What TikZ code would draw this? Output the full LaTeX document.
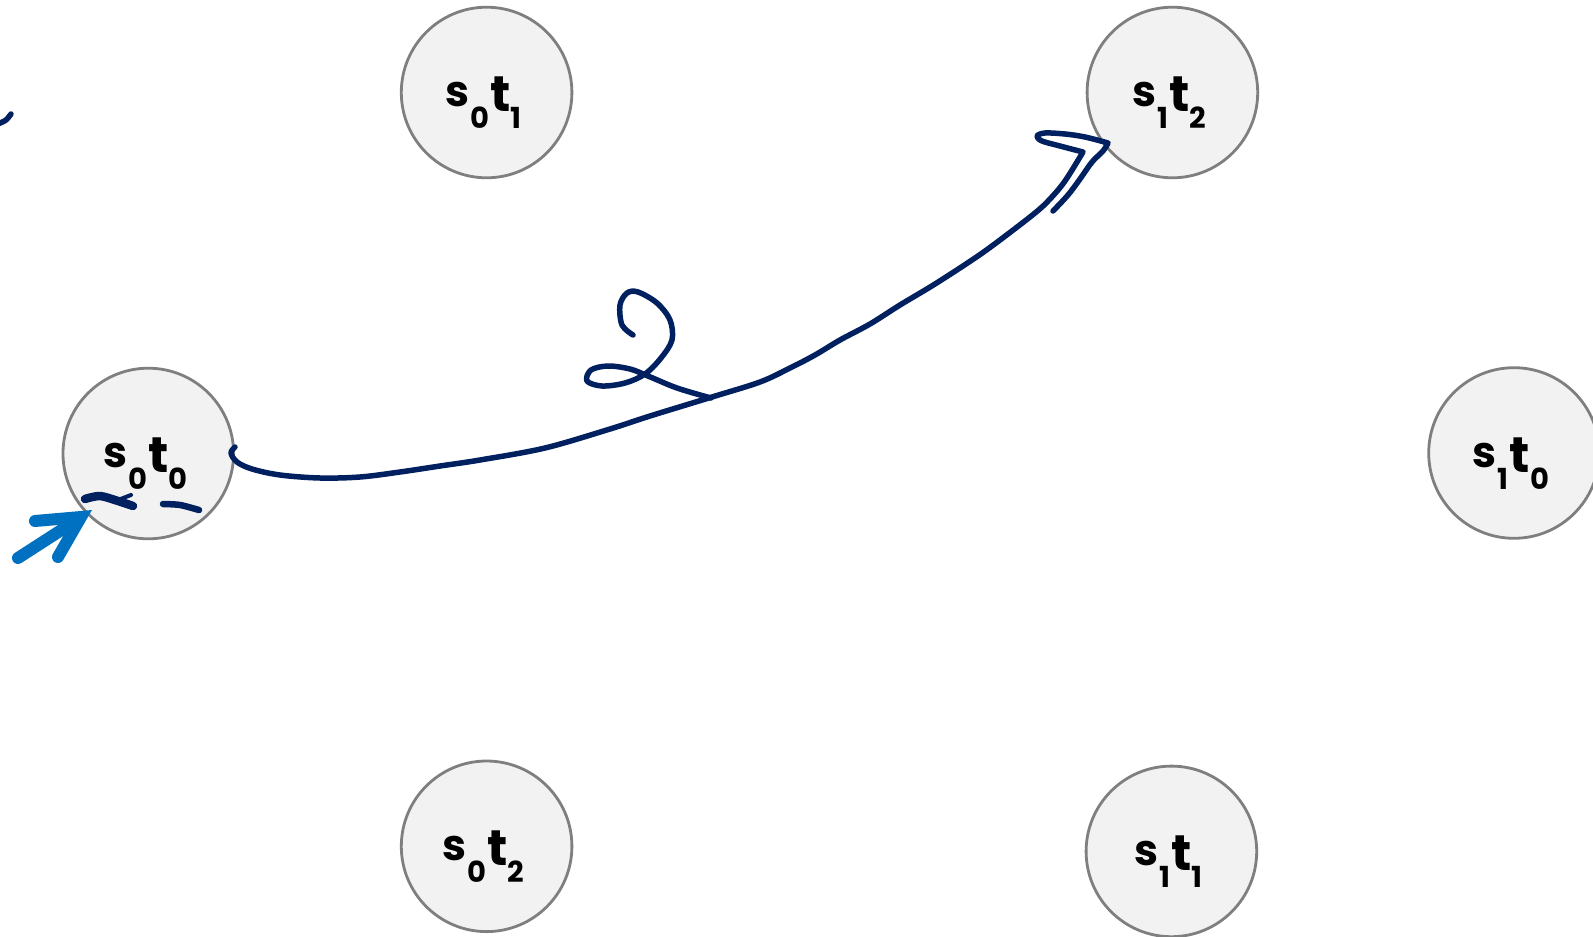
\documentclass[tikz,border=0pt]{standalone}
\usepackage{fontspec}
\setmainfont{Poppins}
\definecolor{ink}{HTML}{002060}
\definecolor{penblue}{HTML}{0070C0}
\definecolor{nodefill}{HTML}{F2F2F2}
\definecolor{nodeborder}{HTML}{7F7F7F}
\newcommand{\stlabel}[2]{\bfseries\fontsize{43}{43}\selectfont s\kern1pt\raisebox{-22pt}{\fontsize{29}{29}\selectfont #1}\kern1pt\raisebox{-5pt}{\fontsize{50}{50}\selectfont t}\raisebox{-22pt}{\fontsize{29}{29}\selectfont #2}}
\tikzset{
  state/.style={circle, draw=nodeborder, fill=nodefill, line width=2.8pt, minimum size=170.6pt, inner sep=0pt},
  statelabel/.style={anchor=base, inner sep=0pt, text=black},
  inkstroke/.style={draw=ink, line width=5.5pt, line cap=round, line join=round},
}
\begin{document}
\begin{tikzpicture}[x=1pt, y=-1pt]
\clip (0,0) rectangle (1593,937);
\fill[white] (0,0) rectangle (1593,937);
% states
\node[state] (s0t1) at (486.6,92.5) {};
\node[state] (s1t2) at (1172.4,92.5) {};
\node[state] (s0t0) at (148.3,453.5) {};
\node[state] (s1t0) at (1514,453) {};
\node[state] (s0t2) at (486.6,846.3) {};
\node[state] (s1t1) at (1171.4,851.4) {};
\node[statelabel] (l01) at ([xshift=-3pt,yshift=-14pt]s0t1.center) {\stlabel{0}{1}};
\node[statelabel] (l12) at ([xshift=-3pt,yshift=-14pt]s1t2.center) {\stlabel{1}{2}};
\node[statelabel] (l00) at ([xshift=-3pt,yshift=-14pt]s0t0.center) {\stlabel{0}{0}};
\node[statelabel] (l10) at ([xshift=-3pt,yshift=-14pt]s1t0.center) {\stlabel{1}{0}};
\node[statelabel] (l02) at ([xshift=-3pt,yshift=-14pt]s0t2.center) {\stlabel{0}{2}};
\node[statelabel] (l11) at ([xshift=-3pt,yshift=-14pt]s1t1.center) {\stlabel{1}{1}};
% start arrow
\draw[penblue, line width=12pt, line cap=round, line join=miter] (18,558) -- (80,518);
\draw[penblue, line width=12pt, line cap=round, line join=miter] (35,521) -- (81,517) -- (58,557);
% top-left scribble
\draw[inkstroke] plot[smooth] coordinates {(-2,124) (6,120) (11,114)};
% underline marks
\draw[inkstroke, line width=8.5pt] plot[smooth] coordinates {(85,499) (100,496) (118,501) (133,506)};
\draw[inkstroke, line width=4pt] (118,500) -- (131,495);
\draw[inkstroke, line width=6.5pt] plot[smooth] coordinates {(163,504) (180,505) (199,510)};
% main handwritten arrow
\draw[inkstroke] plot[smooth, tension=0.55] coordinates {(235,447) (231,453) (237,462) (252,469) (280,475) (320,478) (360,477) (400,472) (440,466) (480,460) (545,448) (610,429) (650,416) (712,397) (760,382) (790,368) (815,355) (840,340) (870,324) (900,305) (935,284) (975,258) (1000,240) (1035,213) (1050,199) (1065,181) (1083,152)}
  -- plot[smooth, tension=0.55] coordinates {(1083,152) (1060,146) (1042,141) (1037,136) (1045,133) (1065,134) (1085,137) (1108,143)}
  -- plot[smooth, tension=0.55] coordinates {(1108,143) (1103,151) (1092,162) (1080,179) (1068,195) (1053,211)};
% the "2"
\draw[inkstroke] plot[smooth, tension=0.55] coordinates {(633,335) (622,325) (620,305) (627,293) (638,292) (657,303) (670,320) (672,340) (661,358) (645,374) (625,383) (602,386) (587,381) (591,370) (608,366) (630,369) (648,376) (677,388) (711,398)};
\end{tikzpicture}
\end{document}
